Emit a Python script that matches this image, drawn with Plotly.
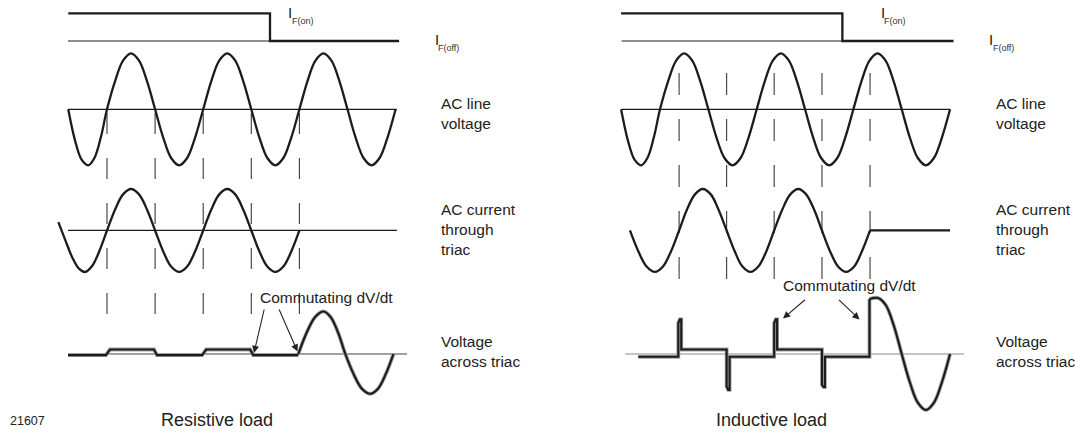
import plotly.graph_objects as go

W, H = 1075, 432

# ---------------- data (x = phase of line voltage in degrees, y = normalised) ----------------
line_theta = [-145, -120, -95, -70, -47, -23,
              0, 30, 60, 90, 120, 150, 180, 210, 240, 270, 300, 330,
              360, 390, 420, 450, 480, 510, 540, 570, 600, 630, 660, 690,
              720, 750, 780, 810, 840, 870, 900, 930, 960, 990, 1020, 1050, 1080]
line_value = [0, -0.55, -0.9, -1, -0.87, -0.5,
              0, 0.5, 0.87, 1, 0.87, 0.5, 0, -0.5, -0.87, -1, -0.87, -0.5,
              0, 0.5, 0.87, 1, 0.87, 0.5, 0, -0.5, -0.87, -1, -0.87, -0.5,
              0, 0.5, 0.87, 1, 0.87, 0.5, 0, -0.5, -0.87, -1, -0.87, -0.5, 0]

gate_theta_left = [-145, 610, 610, 1093]
gate_theta_right = [-145, 679, 679, 1093]
gate_value = [1, 1, 0, 0]

cur_left_theta = [-182, -155, -130, -105, -82, -55, -27,
                  0, 30, 60, 90, 120, 150, 180, 210, 240, 270, 300, 330,
                  360, 390, 420, 450, 480, 510, 540, 570, 600, 630, 660, 690, 720]
cur_left_value = [0.2, -0.25, -0.65, -0.92, -1, -0.85, -0.47,
                  0, 0.5, 0.87, 1, 0.87, 0.5, 0, -0.5, -0.87, -1, -0.87, -0.5,
                  0, 0.5, 0.87, 1, 0.87, 0.5, 0, -0.5, -0.87, -1, -0.87, -0.5, 0]

cur_right_theta = [-112, -81, -50, -19, 11, 41, 71, 100, 130, 159, 189, 218, 248, 278, 307,
                   337, 366, 396, 425, 455, 485, 515, 544, 574, 603, 633, 663, 693, 723, 752, 782]
cur_right_value = [0, -0.5, -0.87, -1, -0.87, -0.5, 0, 0.5, 0.87, 1, 0.87, 0.5, 0, -0.5, -0.87,
                   -1, -0.87, -0.5, 0, 0.5, 0.87, 1, 0.87, 0.5, 0, -0.5, -0.87, -1, -0.87, -0.5, 0]
cur_right_off_theta = [782, 1080]
cur_right_off_value = [0, 0]

triac_left_on_theta = [-146, -4, 11, 176, 187, 356, 371, 536, 547, 716]
triac_left_on_value = [-0.02, -0.02, 0.08, 0.08, -0.02, -0.02, 0.08, 0.08, -0.02, -0.02]
triac_left_off_theta = [716, 747, 779, 810, 837, 865, 892, 923, 954, 985, 1014, 1043, 1072]
triac_left_off_value = [0, 0.38, 0.66, 0.76, 0.66, 0.38, 0, -0.36, -0.62, -0.71, -0.62, -0.36, 0]

triac_right_on_theta = [-81, 68, 68, 74, 79, 79, 248, 248, 254, 259, 259, 425, 425, 431, 436, 436,
                        603, 603, 609, 614, 614, 780, 780]
triac_right_on_value = [-0.05, -0.05, 0.55, 0.62, 0.62, 0.08, 0.08, -0.58, -0.64, -0.64, -0.05,
                        -0.05, 0.55, 0.62, 0.62, 0.08, 0.08, -0.55, -0.59, -0.59, -0.05, -0.05, 0.98]
triac_right_off_theta = [780, 812, 841, 871, 900, 930, 960, 990, 1020, 1050, 1080]
triac_right_off_value = [0.98, 1.0, 0.87, 0.5, 0, -0.5, -0.87, -1, -0.87, -0.5, 0]

cross_left = [0, 180, 360, 540, 720]      # voltage zero crossings (resistive)
cross_right = [71, 248, 425, 603, 782]    # current zero crossings (inductive)

# ---------------- layout constants (row baselines / scales in axis units) ----------------
GATE_BASE, GATE_SCALE = 1.22, 0.494
LINE_BASE, LINE_SCALE = 0.0, 1.0
CUR_BASE, CUR_SCALE = -2.164, 0.741
TRI_BASE, TRI_SCALE = -4.37, 1.0

INK = "#1c1c1c"
FONT = "Liberation Sans, Arial, Helvetica, sans-serif"


def row(vals, base, scale):
    return [base + scale * v for v in vals]


fig = go.Figure()


def add(x, y, xa, width=2.3, color=INK, shape="linear"):
    fig.add_trace(go.Scatter(x=x, y=y, xaxis=xa, yaxis="y", mode="lines",
                             line=dict(color=color, width=width, shape=shape, smoothing=1.0),
                             hoverinfo="skip", showlegend=False))


# gate signal
add(gate_theta_left, row(gate_value, GATE_BASE, GATE_SCALE), "x")
add(gate_theta_right, row(gate_value, GATE_BASE, GATE_SCALE), "x2")
# line voltage
add(line_theta, row(line_value, LINE_BASE, LINE_SCALE), "x", shape="spline")
add(line_theta, row(line_value, LINE_BASE, LINE_SCALE), "x2", shape="spline")
# current
add(cur_left_theta, row(cur_left_value, CUR_BASE, CUR_SCALE), "x", shape="spline")
add(cur_right_theta, row(cur_right_value, CUR_BASE, CUR_SCALE), "x2", shape="spline")
add(cur_right_off_theta, row(cur_right_off_value, CUR_BASE, CUR_SCALE), "x2")
# voltage across triac (gray shadow + dark line)
for col, w in (("#a0a0a0", 3.8), (INK, 2.1)):
    add(triac_left_on_theta, row(triac_left_on_value, TRI_BASE, TRI_SCALE), "x", width=w, color=col)
    add(triac_left_off_theta, row(triac_left_off_value, TRI_BASE, TRI_SCALE), "x", width=w, color=col,
        shape="spline")
    add(triac_right_on_theta, row(triac_right_on_value, TRI_BASE, TRI_SCALE), "x2", width=w, color=col)
    add(triac_right_off_theta, row(triac_right_off_value, TRI_BASE, TRI_SCALE), "x2", width=w, color=col,
        shape="spline")

shapes = []


def hline(xref, x0, x1, y, color=INK, width=1.2):
    shapes.append(dict(type="line", xref=xref, yref="y", x0=x0, x1=x1, y0=y, y1=y,
                       line=dict(color=color, width=width), layer="below"))


# thin reference lines
hline("x", -146, 610, GATE_BASE)
hline("x", -146, 1085, LINE_BASE)
hline("x", -146, 1085, CUR_BASE)
hline("x", -146, 1123, TRI_BASE, color="#444")
hline("x2", -143, 679, GATE_BASE)
hline("x2", -143, 1080, LINE_BASE)
hline("x2", -130, 1132, TRI_BASE, color="#8a8a8a")

# dashed timing markers
for xs, xref, top, bot, dash in ((cross_left, "x", 113, 315, "21px,24px"),
                                 (cross_right, "x2", 73, 280, "22px,24px")):
    for t in xs:
        shapes.append(dict(type="line", xref=xref, yref="paper", x0=t, x1=t,
                           y0=1 - top / H, y1=1 - bot / H,
                           line=dict(color="#3a3a3a", width=1.1, dash=dash), layer="below"))

ann = []


def text(s, px, py, size=15.5, xanchor="left", yanchor="middle", align="left", color="#222"):
    ann.append(dict(text=s, x=px / W, y=1 - py / H, xref="paper", yref="paper", showarrow=False,
                    xanchor=xanchor, yanchor=yanchor, align=align,
                    font=dict(family=FONT, size=size, color=color)))


def arrow(tip_px, tip_py, tail_px, tail_py):
    ann.append(dict(text="", x=tip_px / W, y=1 - tip_py / H, xref="paper", yref="paper",
                    showarrow=True, ax=tail_px - tip_px, ay=tail_py - tip_py,
                    arrowhead=2, arrowsize=1.3, arrowwidth=1.1, arrowcolor="#222"))


# I_F labels
text("I", 285.5, 12.5, size=15)
text("F(on)", 289.5, 21.5, size=9, color="#333")
text("I", 432.5, 39, size=15)
text("F(off)", 436, 47.5, size=9, color="#333")
text("I", 878.5, 12.5, size=15)
text("F(on)", 882, 21.5, size=9, color="#333")
text("I", 987, 39, size=15)
text("F(off)", 990.5, 47.5, size=9, color="#333")

for x0 in (439, 993.5):
    text("AC line<br>voltage", x0, 114)
    text("AC current<br>through<br>triac", x0, 229.5)
    text("Voltage<br>across triac", x0, 351)

text("Commutating dV/dt", 326, 297, xanchor="center")
text("Commutating dV/dt", 849.5, 285, xanchor="center")
arrow(254, 353, 264.5, 308)
arrow(297.5, 351.5, 278.5, 308)
arrow(783, 318.5, 806.5, 298.5)
arrow(859.5, 319.5, 837.5, 298.5)

text("Resistive load", 217, 419.5, size=18, xanchor="center")
text("Inductive load", 771, 419.5, size=18, xanchor="center")
text("21607", 8, 421, size=12.5)

axis_common = dict(visible=False, showgrid=False, zeroline=False, fixedrange=True)
fig.update_layout(
    width=W, height=H, autosize=False,
    margin=dict(l=0, r=0, t=0, b=0, pad=0),
    paper_bgcolor="white", plot_bgcolor="white",
    showlegend=False, hovermode=False,
    xaxis=dict(domain=[0, 0.5], range=[-400.4, 1611.0], anchor="y", **axis_common),
    xaxis2=dict(domain=[0.5, 1], range=[-456.3, 1545.3], anchor="y", **axis_common),
    yaxis=dict(domain=[0, 1], range=[-5.763, 1.952], anchor="x", **axis_common),
    shapes=shapes, annotations=ann,
)

fig.write_html("out.html", config={"displayModeBar": False, "staticPlot": True},
               post_script="document.body.style.margin='0';document.body.style.padding='0';"
                           "document.body.style.overflow='hidden';")
